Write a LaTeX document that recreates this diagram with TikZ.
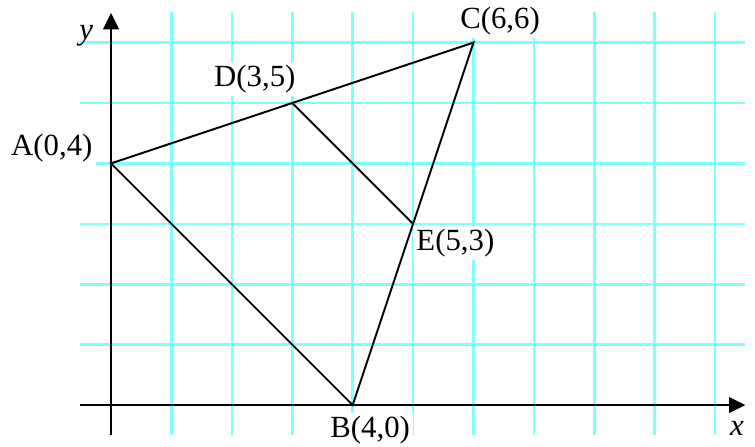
\documentclass[tikz,border=0pt]{standalone}
\usepackage{fontspec}
\setmainfont{Liberation Serif}
\usetikzlibrary{arrows.meta}
\definecolor{gridcyan}{HTML}{80FFFF}
\definecolor{ink}{HTML}{000000}
\tikzset{
  gridline/.style={draw=gridcyan, line width=1.2pt},
  axisline/.style={-{Triangle[length=2.7mm,width=2.6mm]}, line width=0.9pt, draw=ink},
  triside/.style={line width=0.9pt, draw=ink},
  ptlabel/.style={fill=white, inner sep=1.5pt, font=\fontsize{14.5}{17}\selectfont},
  axislabel/.style={inner sep=0pt, font=\fontsize{14.5}{17}\selectfont\itshape}
}

\begin{document}
\begin{tikzpicture}
    \useasboundingbox (-1.838,-0.679) rectangle (10.66,6.705);
    % points of the triangle
    \coordinate (A) at (0,4);
    \coordinate (B) at (4,0);
    \coordinate (C) at (6,6);
    \coordinate (D) at (3,5);
    \coordinate (E) at (5,3);
    % grid
    \foreach \i in {1,...,10}
      \draw[gridline] (\i,-0.5) -- (\i,6.51);
    \foreach \j in {1,...,6}
      \draw[gridline] (-0.51,\j) -- (10.5,\j);
    % axes
    \coordinate (xs) at (-0.51,0);
    \coordinate (xe) at (10.5,0);
    \coordinate (ys) at (0,-0.5);
    \coordinate (ye) at (0,6.49);
    \draw[axisline] (xs) -- (xe);
    \draw[axisline] (ys) -- (ye);
    \node[axislabel] (xlab) at (10.36,-0.38) {x};
    \node[axislabel] (ylab) at (-0.41,6.11) {y};
    % labels
    \foreach \p/\lab/\x/\y in {A/{A(0,4)}/-0.98/4.25, D/{D(3,5)}/2.38/5.40,
      C/{C(6,6)}/6.44/6.36, E/{E(5,3)}/5.70/2.68, B/{B(4,0)}/4.29/-0.41}
      \node[ptlabel] (lab\p) at (\x,\y) {\lab};
    % triangle
    \draw[triside] (A) -- (B) -- (C) -- cycle;
    \draw[triside] (D) -- (E);
\end{tikzpicture}
\end{document}
